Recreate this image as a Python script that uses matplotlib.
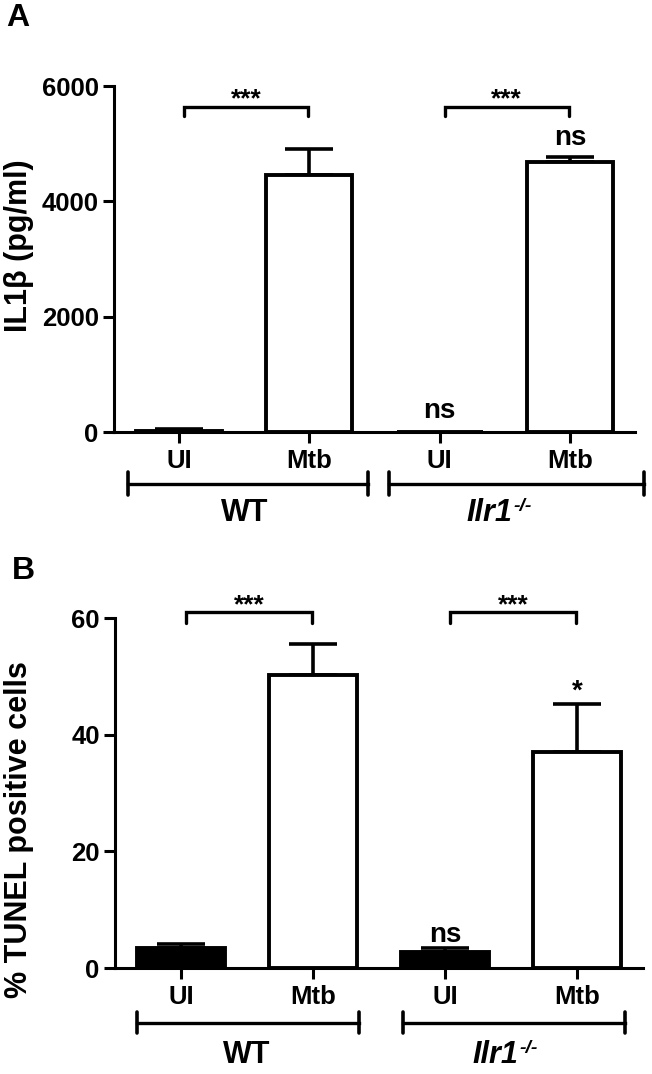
import matplotlib
matplotlib.use('Agg')
import matplotlib.pyplot as plt
import matplotlib.transforms as mtransforms

plt.rcParams['font.family'] = ['Liberation Sans', 'DejaVu Sans']
plt.rcParams['font.weight'] = 'bold'

# ---------------- data ----------------
categories = ['UI', 'Mtb', 'UI', 'Mtb']
group_labels = ['WT', 'Ilr1']
group_sup = ['', '-/-']
group_members = [(0, 1), (2, 3)]
bar_fill = ['black', 'white', 'black', 'white']

il1b_mean = [25, 4450, 0, 4680]
il1b_sem = [25, 460, 0, 90]
il1b_ticks = [0, 2000, 4000, 6000]
il1b_notes = ['', '', 'ns', 'ns']

tunel_mean = [3.4, 50.2, 2.8, 37.0]
tunel_sem = [0.7, 5.4, 0.6, 8.3]
tunel_ticks = [0, 20, 40, 60]
tunel_notes = ['', '', 'ns', '*']

sig_pairs = [(0, 1), (2, 3)]
sig_labels = ['***', '***']

W, H = 652, 1074
fig = plt.figure(figsize=(W / 100, H / 100), dpi=100)


def px_axes(left, right, top, bottom):
    return fig.add_axes([left / W, 1 - bottom / H, (right - left) / W, (bottom - top) / H])


def panel(ax, means, sems, ticks, notes, note_y, bracket_y, bracket_drop,
          grp_ranges, grp_y, grp_cap, grp_text_y):
    x = list(range(len(categories)))
    ax.bar(x, means, width=0.66, color=bar_fill, edgecolor='black',
           linewidth=2.8, zorder=3)
    ex = [xi for xi, s in zip(x, sems) if s > 0]
    ey = [m for m, s in zip(means, sems) if s > 0]
    es = [s for s in sems if s > 0]
    ax.errorbar(ex, ey, yerr=[[0] * len(es), es], fmt='none', ecolor='black',
                elinewidth=2.6, capsize=17, capthick=2.6, zorder=2, clip_on=False)
    ax.set_xlim(-0.5, 3.5)
    ax.set_ylim(ticks[0], ticks[-1])
    ax.set_yticks(ticks)
    ax.set_xticks(x)
    ax.set_xticklabels(categories)
    for s in ['top', 'right']:
        ax.spines[s].set_visible(False)
    for s in ['left', 'bottom']:
        ax.spines[s].set_linewidth(2.2)
    ax.tick_params(axis='both', width=2.2, length=8, labelsize=18.5)
    ax.tick_params(axis='y', pad=3)
    ax.tick_params(axis='x', pad=4)
    for lab in ax.get_xticklabels() + ax.get_yticklabels():
        lab.set_fontweight('bold')
    # notes above bars
    for xi, n, ny in zip(x, notes, note_y):
        if n:
            ax.text(xi, ny, n, ha='center', va='baseline', fontsize=20,
                    fontweight='bold', zorder=5)
    # significance brackets
    for (a, b), lab in zip(sig_pairs, sig_labels):
        x0, x1 = a + 0.04, b - 0.01
        ax.plot([x0, x0, x1, x1], [bracket_y - bracket_drop, bracket_y, bracket_y,
                                    bracket_y - bracket_drop],
                color='black', lw=2.4, solid_capstyle='round',
                solid_joinstyle='miter', clip_on=False)
        ax.text((x0 + x1) / 2, bracket_y, lab, ha='center', va='baseline',
                fontsize=19, fontweight='bold')
    # group brackets
    tr = mtransforms.blended_transform_factory(ax.transData, ax.transAxes)
    for (g0, g1) in grp_ranges:
        ax.plot([g0, g1], [grp_y, grp_y], color='black', lw=2.4, transform=tr,
                clip_on=False)
        for gx in (g0, g1):
            ax.plot([gx, gx], [grp_y - grp_cap, grp_y + grp_cap], color='black',
                    lw=2.6, solid_capstyle='round', transform=tr, clip_on=False)
    for (a, b), lab, sup in zip(group_members, group_labels, group_sup):
        if sup:
            t = ax.text((a + b) / 2 - 0.12, grp_text_y, lab, ha='center',
                        va='center', fontsize=22, fontweight='bold',
                        fontstyle='italic', transform=tr)
            ax.annotate(sup, xy=(1.0, 1.0), xycoords=t, xytext=(1, 0),
                        textcoords='offset points', ha='left', va='top',
                        fontsize=14, fontweight='bold', fontstyle='italic')
        else:
            ax.text((a + b) / 2, grp_text_y, lab, ha='center', va='center',
                    fontsize=22, fontweight='bold', transform=tr)


axA = px_axes(114, 635, 86, 432)
panel(axA, il1b_mean, il1b_sem, il1b_ticks, il1b_notes,
      note_y=[0, 0, 243, 4977], bracket_y=5640, bracket_drop=160,
      grp_ranges=[(-0.39, 1.45), (1.61, 3.57)], grp_y=-0.150, grp_cap=0.033,
      grp_text_y=-0.235)

axB = px_axes(115, 643, 618, 968)
panel(axB, tunel_mean, tunel_sem, tunel_ticks, tunel_notes,
      note_y=[0, 0, 4.5, 46.1], bracket_y=61.0, bracket_drop=1.9,
      grp_ranges=[(-0.33, 1.35), (1.68, 3.36)], grp_y=-0.157, grp_cap=0.030,
      grp_text_y=-0.249)

fig.text(19 / W, 1 - 246 / H, 'IL1\u03b2 (pg/ml)', rotation=90,
         ha='center', va='center', fontsize=22, fontweight='bold')
fig.text(19 / W, 1 - 830 / H, '% TUNEL positive cells', rotation=90,
         ha='center', va='center', fontsize=22, fontweight='bold')

fig.text(6 / W, 1 - 18 / H, 'A', ha='left', va='center', fontsize=23,
         fontweight='bold')
fig.text(12 / W, 1 - 571 / H, 'B', ha='left', va='center', fontsize=23,
         fontweight='bold')

fig.savefig('out.png', dpi=100, facecolor='white')
